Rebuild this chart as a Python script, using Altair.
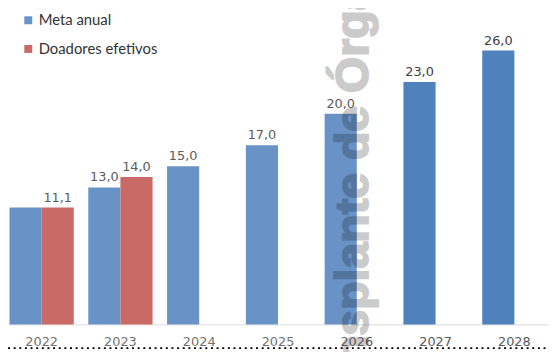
import altair as alt
import pandas as pd

# ---- data ----
years = ["2022", "2023", "2024", "2025", "2026", "2027", "2028"]
meta_anual = [11.1, 13.0, 15.0, 17.0, 20.0, 23.0, 26.0]
doadores_years = ["2022", "2023"]
doadores_efetivos = [11.1, 14.0]
series = ["Meta anual", "Doadores efetivos"]
colors = ["#4F81BD", "#C0504D"]
watermark_text = ["Transplante de Órgãos"]


def fmt(v):
    return f"{v:.1f}".replace(".", ",")


rows = []
for y, v in zip(years, meta_anual):
    rows.append({"ano": y, "serie": series[0], "valor": v, "rotulo": fmt(v)})
for y, v in zip(doadores_years, doadores_efetivos):
    rows.append({"ano": y, "serie": series[1], "valor": v, "rotulo": fmt(v)})
df = pd.DataFrame(rows)

W, H = 546, 318

x_enc = alt.X(
    "ano:N",
    sort=years,
    scale=alt.Scale(domain=years, paddingInner=0.184, paddingOuter=0.0188),
    axis=alt.Axis(
        title=None,
        ticks=False,
        domainColor="#D9D9D9",
        domainWidth=1,
        labelFont="DejaVu Sans",
        labelFontSize=13,
        labelColor="#595959",
        labelPadding=11,
        labelAngle=0,
        grid=False,
    ),
)
xoff_enc = alt.XOffset("serie:N", sort=series, scale=alt.Scale(domain=series, paddingInner=0, paddingOuter=0))
y_enc = alt.Y("valor:Q", scale=alt.Scale(domain=[0, 29.85], nice=False, zero=True), axis=None)

base = alt.Chart(df)

bars = base.mark_bar().encode(
    x=x_enc,
    xOffset=xoff_enc,
    y=y_enc,
    color=alt.Color(
        "serie:N",
        sort=series,
        scale=alt.Scale(domain=series, range=colors),
        legend=alt.Legend(
            title=None,
            orient="none",
            legendX=13,
            legendY=3,
            symbolType="square",
            symbolSize=64,
            symbolStrokeWidth=0,
            symbolOpacity=0.85,
            labelFont="Lato",
            labelFontSize=15,
            labelColor="#333333",
            rowPadding=13,
            labelOffset=3,
            padding=0,
        ),
    ),
)

labels = (
    base.transform_filter("!(datum.ano == '2022' && datum.serie == 'Meta anual')")
    .mark_text(dy=-6, baseline="alphabetic", font="DejaVu Sans", fontSize=13, color="#404040")
    .encode(x=x_enc, xOffset=xoff_enc, y=y_enc, text="rotulo:N")
)

overlay = alt.Chart(pd.DataFrame({"d": [0]})).mark_rect(color="white", opacity=0.15).encode(
    x=alt.value(0), x2=alt.value(362), y=alt.value(0), y2=alt.value(344)
)

watermark = alt.Chart(pd.DataFrame({"t": watermark_text})).mark_text(
    angle=270,
    font="Liberation Sans",
    fontWeight="bold",
    fontSize=47,
    color="black",
    stroke="black",
    strokeWidth=2,
    opacity=0.2,
    align="center",
    baseline="middle",
).encode(x=alt.value(350), y=alt.value(174), text="t:N")

rule = alt.Chart(pd.DataFrame({"d": [0]})).mark_rule(color="black", strokeDash=[2, 3.7], strokeWidth=2).encode(
    x=alt.value(0), x2=alt.value(W), y=alt.value(342)
)

chart = (
    alt.layer(bars, labels, overlay, watermark, rule)
    .properties(
        width=W,
        height=H,
        padding={"left": 0, "top": 0, "right": 0, "bottom": 26},
        autosize=alt.AutoSizeParams(type="none"),
    )
    .configure_view(stroke=None)
)

chart.save("out.html", embed_options={"renderer": "svg", "actions": False})
